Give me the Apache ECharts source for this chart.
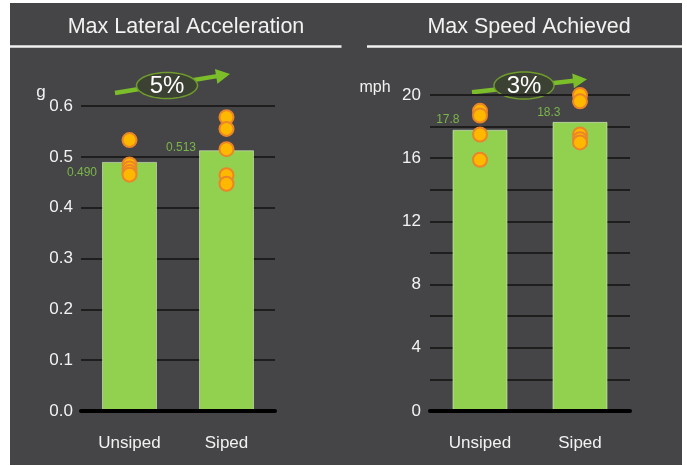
<!DOCTYPE html>
<html>
<head>
<meta charset="utf-8">
<script src="https://cdn.jsdelivr.net/npm/echarts@6/dist/echarts.min.js"></script>
<style>
  html, body { margin: 0; padding: 0; background: #ffffff; }
  #panel { position: absolute; left: 10px; top: 3px; width: 672px; height: 462px; background: #454547; }
  #chart { position: absolute; left: 0; top: 0; width: 687px; height: 466px; }
</style>
</head>
<body>
<div id="panel"></div>
<div id="chart"></div>
<script>
// Tire test results: siped vs unsiped
const categories = ['Unsiped', 'Siped'];

// Max lateral acceleration (g)
const latAvg = [0.490, 0.513];
const latUnsipedRuns = [0.533, 0.485, 0.477, 0.470, 0.465];
const latSipedRuns = [0.578, 0.555, 0.515, 0.464, 0.447];
const latGain = '5%';

// Max speed achieved (mph)
const speedAvg = [17.8, 18.3];
const speedUnsipedRuns = [19.0, 18.7, 17.5, 15.9];
const speedSipedRuns = [20.0, 19.6, 17.5, 17.2, 17.0];
const speedGain = '3%';

const FONT = "'Liberation Sans', Arial, sans-serif";
const TEXT = '#f2f2f2';
const BAR = '#92d050';
const LABEL_GREEN = '#7ab648';

// label placement relative to each bar's top-left corner
const latLabelPos = [[-5, 11], [-3, -3]];
const speedLabelPos = [[7, -10], [8, -9]];

function barData(values, pos, digits) {
  return values.map((v, i) => ({
    value: v,
    label: {
      show: true,
      position: pos[i],
      align: 'right',
      verticalAlign: 'middle',
      color: LABEL_GREEN,
      fontSize: 12,
      fontFamily: FONT,
      formatter: () => v.toFixed(digits)
    }
  }));
}

function runPoints(runsByCat) {
  const pts = [];
  runsByCat.forEach((runs, ci) => runs.forEach(v => pts.push([ci, v])));
  return pts;
}

// ellipse badge with an upward arrow behind it
function gainBadge(cx, cy, rx, ry, x0, y0, x1, y1, text) {
  const dx = x1 - x0, dy = y1 - y0;
  const len = Math.sqrt(dx * dx + dy * dy);
  const ux = dx / len, uy = dy / len;
  const nx = -uy, ny = ux;
  const headLen = 14, headHalf = 7.5;
  const bx = x1 - ux * headLen, by = y1 - uy * headLen;
  const ring = [];
  for (let k = 0; k < 60; k++) {
    const a = k / 60 * Math.PI * 2;
    ring.push([cx + rx * Math.cos(a), cy + ry * Math.sin(a)]);
  }
  return [
    { type: 'line', shape: { x1: x0, y1: y0, x2: bx + ux, y2: by + uy },
      style: { stroke: '#7cbd2a', lineWidth: 4.5 } },
    { type: 'polygon', shape: { points: [[x1, y1], [bx + nx * headHalf, by + ny * headHalf], [bx - nx * headHalf, by - ny * headHalf]] },
      style: { fill: '#7cbd2a' } },
    { type: 'polygon', shape: { points: ring },
      style: { fill: '#3b4133', stroke: '#6f9a2c', lineWidth: 1.5 } },
    { type: 'text', x: cx, y: cy + 1,
      style: { text: text, fill: '#ffffff', font: '24px ' + FONT, textAlign: 'center', textVerticalAlign: 'middle' } }
  ];
}

const axisLabelStyle = { color: TEXT, fontSize: 17, fontFamily: FONT };

const chart = echarts.init(document.getElementById('chart'), null, { renderer: 'canvas' });

chart.setOption({
  backgroundColor: 'transparent',
  animation: false,
  title: [
    { text: 'Max Lateral Acceleration', left: 181, top: 11, textAlign: 'center',
      textStyle: { color: TEXT, fontSize: 21.5, fontWeight: 'normal', fontFamily: FONT } },
    { text: 'Max Speed Achieved', left: 524, top: 11, textAlign: 'center',
      textStyle: { color: TEXT, fontSize: 21.5, fontWeight: 'normal', fontFamily: FONT } }
  ],
  grid: [
    { left: 81, top: 106, width: 194, height: 305 },
    { left: 430, top: 95, width: 200, height: 316 }
  ],
  xAxis: [0, 1].map(g => ({
    type: 'category',
    gridIndex: g,
    data: categories,
    axisLine: { lineStyle: { color: '#000000', width: 4 } },
    axisTick: { show: false },
    axisLabel: Object.assign({ margin: 24 }, axisLabelStyle),
    z: 5
  })),
  yAxis: [
    { type: 'value', gridIndex: 0, min: 0, max: 0.6, interval: 0.1,
      axisLine: { show: false }, axisTick: { show: false },
      axisLabel: Object.assign({ margin: 8, formatter: v => v.toFixed(1) }, axisLabelStyle),
      splitLine: { lineStyle: { color: '#1e1e1e', width: 2 } } },
    { type: 'value', gridIndex: 1, min: 0, max: 20, interval: 2,
      axisLine: { show: false }, axisTick: { show: false },
      axisLabel: Object.assign({ margin: 9, formatter: v => (v % 4 === 0 ? String(v) : '') }, axisLabelStyle),
      splitLine: { lineStyle: { color: '#1e1e1e', width: 2 } } }
  ],
  series: [
    { type: 'bar', xAxisIndex: 0, yAxisIndex: 0, barWidth: 55,
      itemStyle: { color: BAR, borderColor: 'rgba(230,240,220,0.55)', borderWidth: 1 },
      data: barData(latAvg, latLabelPos, 3) },
    { type: 'bar', xAxisIndex: 1, yAxisIndex: 1, barWidth: 55,
      itemStyle: { color: BAR, borderColor: 'rgba(230,240,220,0.55)', borderWidth: 1 },
      data: barData(speedAvg, speedLabelPos, 1) },
    { type: 'scatter', xAxisIndex: 0, yAxisIndex: 0, symbolSize: 14, z: 6,
      itemStyle: { color: '#ffb800', borderColor: '#ec8527', borderWidth: 2, opacity: 1 },
      data: runPoints([latUnsipedRuns, latSipedRuns]) },
    { type: 'scatter', xAxisIndex: 1, yAxisIndex: 1, symbolSize: 14, z: 6,
      itemStyle: { color: '#ffb800', borderColor: '#ec8527', borderWidth: 2, opacity: 1 },
      data: runPoints([speedUnsipedRuns, speedSipedRuns]) }
  ],
  graphic: [
    { type: 'line', shape: { x1: 10, y1: 46.5, x2: 341.5, y2: 46.5 }, style: { stroke: '#f0f0f0', lineWidth: 2.5 } },
    { type: 'line', shape: { x1: 367, y1: 46.5, x2: 682, y2: 46.5 }, style: { stroke: '#f0f0f0', lineWidth: 2.5 } },
    { type: 'text', x: 41, y: 92, style: { text: 'g', fill: TEXT, font: '17px ' + FONT, textAlign: 'center', textVerticalAlign: 'middle' } },
    { type: 'text', x: 375, y: 88, style: { text: 'mph', fill: TEXT, font: '16px ' + FONT, textAlign: 'center', textVerticalAlign: 'middle' } }
  ]
    .concat(gainBadge(167, 85.5, 30.5, 13, 115, 93, 230, 74, latGain))
    .concat(gainBadge(524, 85.5, 30, 13.5, 472, 92.3, 587, 79.3, speedGain))
});
</script>
</body>
</html>
